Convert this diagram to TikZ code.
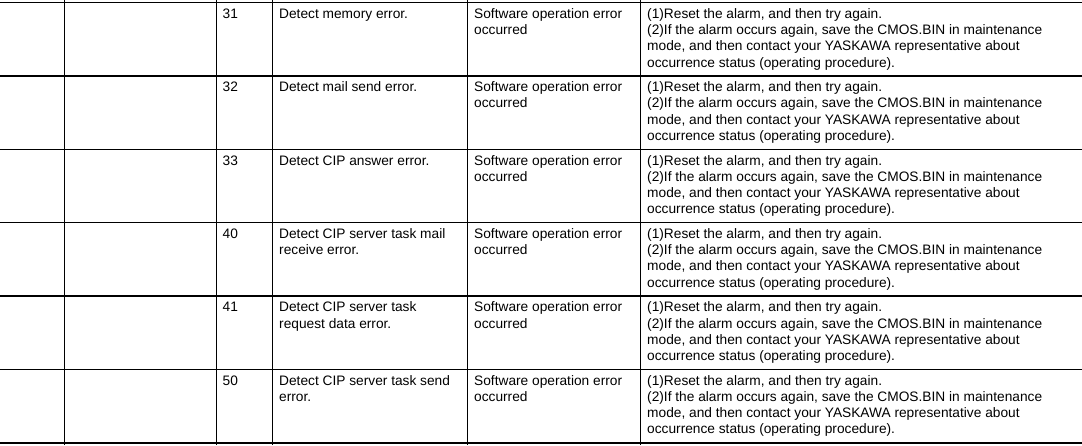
\documentclass[tikz,border=0pt]{standalone}
\usepackage{fontspec}
\setmainfont{Liberation Sans}
\begin{document}
\begin{tikzpicture}[x=1pt,y=-1pt,
  grid/.style={line width=1.4pt,black},
  cell/.style={anchor=north west,inner sep=0pt,align=left,
    font=\fontsize{13.72}{16.25}\selectfont}]
\useasboundingbox (0,0) rectangle (1082,445);
\fill[white] (0,0) rectangle (1082,445);
% vertical lines
\foreach \x/\n in {64.5/a,216.5/b,272.5/c,467.5/d,640.5/e}
  \draw[grid] (\x,0) coordinate (vt\n) -- (\x,445) coordinate (vb\n);
% horizontal lines
\foreach \i in {0,...,6}
  \draw[grid] (0,2.6+\i*73.37) coordinate (hl\i) -- (1082,2.6+\i*73.37) coordinate (hr\i);
\newcommand{\rowtxt}[4]{%
  \node[cell] (n#1) at (222.5,{2.6+#1*73.37+5}) {\rule{0pt}{10.5pt}#2};
  \node[cell] (d#1) at (279,{2.6+#1*73.37+5}) {\rule{0pt}{10.5pt}#3};
  \node[cell] (c#1) at (474,{2.6+#1*73.37+5}) {\rule{0pt}{10.5pt}Software operation error\\occurred};
  \node[cell] (r#1) at (647,{2.6+#1*73.37+5}) {\rule{0pt}{10.5pt}(1)Reset the alarm, and then try again.\\(2)If the alarm occurs again, save the CMOS.BIN in maintenance\\mode, and then contact your YASKAWA representative about\\occurrence status (operating procedure).};
}
\rowtxt{0}{31}{Detect memory error.}{}
\rowtxt{1}{32}{Detect mail send error.}{}
\rowtxt{2}{33}{Detect CIP answer error.}{}
\rowtxt{3}{40}{Detect CIP server task mail\\receive error.}{}
\rowtxt{4}{41}{Detect CIP server task\\request data error.}{}
\rowtxt{5}{50}{Detect CIP server task send\\error.}{}
\end{tikzpicture}
\end{document}
